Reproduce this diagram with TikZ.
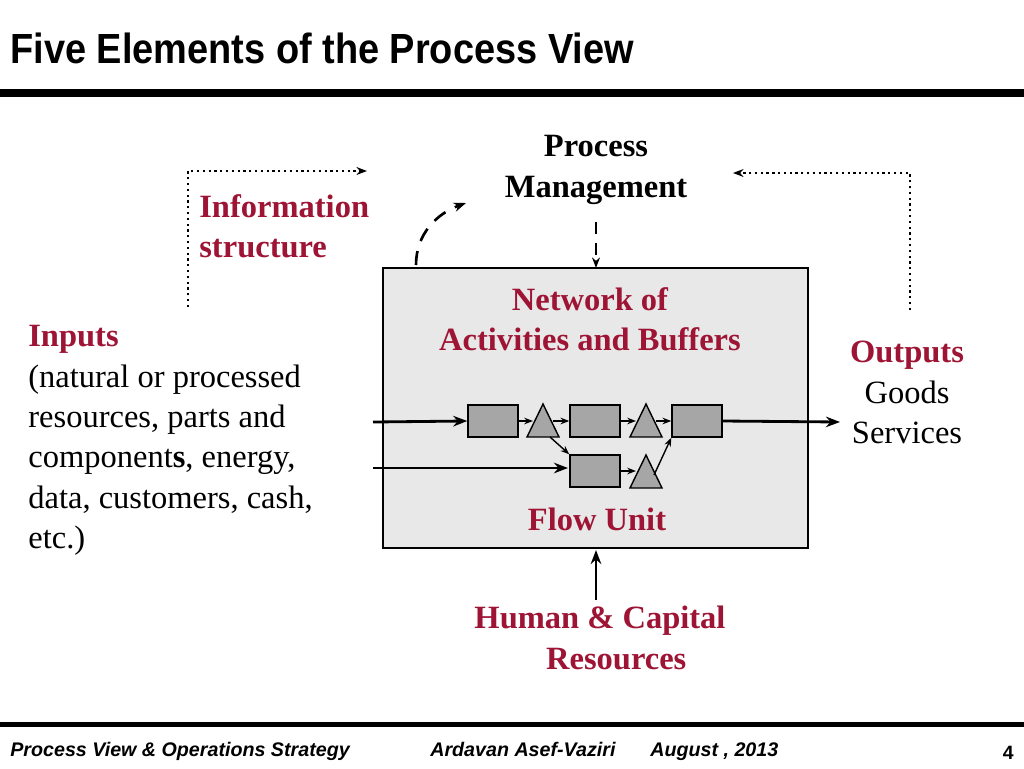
\documentclass[tikz,border=0pt]{standalone}
\usepackage{fontspec}
\setmainfont{Liberation Serif}
\setsansfont{Liberation Sans}
\usetikzlibrary{arrows.meta}
\definecolor{maroon}{RGB}{158,20,52}
\definecolor{boxgray}{RGB}{232,232,232}
\definecolor{blockgray}{RGB}{166,166,166}
\tikzset{
  body/.style={font=\fontsize{18.5}{23}\selectfont, inner sep=0pt, align=left},
  head/.style={body, font=\fontsize{18.5}{23}\selectfont\bfseries, text=maroon},
  block/.style={draw, fill=blockgray, line width=0.8pt},
  flow/.style={-{Stealth[length=5pt]}, line width=0.8pt},
  feed/.style={-{Stealth[length=8pt]}, line width=1.6pt},
  foot/.style={anchor=base west, inner sep=0pt, font=\sffamily\bfseries\itshape\fontsize{11.2}{13}\selectfont},
}
\begin{document}
\begin{tikzpicture}[x=0.02cm, y=-0.02cm]
  \useasboundingbox (0,0) rectangle (1024,768);

  % title and rules
  \node[anchor=base west, inner sep=0pt, font=\sffamily\bfseries\fontsize{24}{28}\selectfont, xscale=0.9, transform shape] (title) at (10,63) {Five Elements of the Process View};
  \fill (0,89) rectangle (1024,97);
  \fill (0,722) rectangle (1024,727);

  % main box
  \draw[fill=boxgray, line width=1.4pt] (383,268) rectangle (808,548);
  \coordinate (boxtop) at (596,268);
  \coordinate (boxbot) at (596,550);

  % texts
  \node[body, font=\fontsize{18.5}{23}\selectfont\bfseries, align=center, anchor=north] (mgmt) at (596,135) {Process\\Management};
  \node[head, anchor=north west] (info) at (199,194) {Information\\structure};
  \node[head, align=center, anchor=north] (net) at (590,287) {Network of\\Activities and Buffers};
  \node[body, anchor=north west] (inputs) at (28,325) {\textcolor{maroon}{\textbf{Inputs}}\\(natural or processed\\resources, parts and\\component\textbf{s}, energy,\\data, customers, cash,\\etc.)};
  \node[body, align=center, anchor=north] (outputs) at (907,341) {\textcolor{maroon}{\textbf{Outputs}}\\Goods\\Services};
  \node[head, anchor=north] (flowunit) at (597,508) {Flow Unit};
  \node[head, align=center, anchor=north] (human) at (600,606) {Human \& Capital\\\phantom{xx}Resources};

  % management links
  \draw[-{Stealth[length=6pt]}, line width=1.2pt, dash pattern=on 7pt off 5pt] (596,222) -- (boxtop);
  \draw[-{Stealth[length=7pt]}, line width=1.5pt, dash pattern=on 8pt off 6pt] (416,265) to[out=90, in=200] (466,203);
  \draw[-{Stealth[length=6pt]}, line width=1.3pt, dotted] (188,307) -- (188,171) -- (367,171);
  \draw[-{Stealth[length=6pt]}, line width=1.3pt, dotted] (910,310) -- (910,173) -- (733,173);
  \draw[feed] (596,600) -- (boxbot);

  % network of activities and buffers
  \node[block, minimum width=0.02cm*50, minimum height=0.02cm*32] (a1) at (493,421) {};
  \node[block, minimum width=0.02cm*50, minimum height=0.02cm*32] (a2) at (595,421) {};
  \node[block, minimum width=0.02cm*50, minimum height=0.02cm*32] (a3) at (697,421) {};
  \node[block, minimum width=0.02cm*50, minimum height=0.02cm*32] (a4) at (595,471) {};
  \draw[block] (527,437) -- (543,404) -- (559,437) -- cycle;
  \draw[block] (630,437) -- (646,404) -- (662,437) -- cycle;
  \draw[block] (630,488) -- (646,455) -- (662,488) -- cycle;
  \coordinate (b1in) at (533,421); \coordinate (b1out) at (553,421);
  \coordinate (b2in) at (636,421); \coordinate (b2out) at (656,421);
  \coordinate (b3in) at (636,471); \coordinate (b3out) at (654,475);
  \coordinate (b1low) at (550,437);

  \coordinate (in1) at (373,422);
  \coordinate (in2) at (373,468);
  \coordinate (out) at (840,422);
  \draw[feed] (in1) -- (a1.west);
  \draw[feed] (in2) -- (568,468);
  \draw[feed] (a3.east) -- (out);
  \draw[flow] (a1.east) -- (b1in);
  \draw[flow] (b1out) -- (a2.west);
  \draw[flow] (a2.east) -- (b2in);
  \draw[flow] (b2out) -- (a3.west);
  \draw[flow] (b1low) -- (a4.north west);
  \draw[flow] (a4.east) -- (b3in);
  \draw[flow] (b3out) -- (a3.south west);

  % footer
  \node[foot] (ft1) at (10,756) {Process View \& Operations Strategy};
  \node[foot] (ft2) at (430,756) {Ardavan Asef-Vaziri};
  \node[foot] (ft3) at (650,756) {August , 2013};
  \node[anchor=base east, inner sep=0pt, font=\sffamily\bfseries\fontsize{11}{13}\selectfont] (page) at (1014,759) {4};
\end{tikzpicture}
\end{document}
